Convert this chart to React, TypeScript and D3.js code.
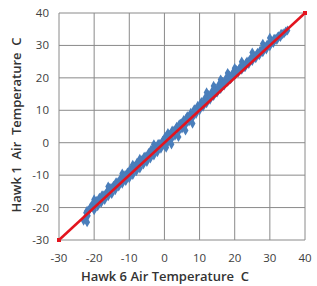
import React from "react";
import * as d3 from "d3";

const ticks = [-30, -20, -10, 0, 10, 20, 30, 40];
const hawk6Temps = [
  -23.0,-22.5,-22.0,-21.8,-21.2,-20.5,-20.0,-19.5,-19.0,-18.5,-18.0,-17.5,-17.0,-16.5,-16.0,-15.5,-15.0,-14.5,-14.0,-13.5,
  -13.0,-12.5,-12.0,-11.5,-11.0,-10.5,-10.0,-9.5,-9.0,-8.5,-8.0,-7.5,-7.0,-6.5,-6.0,-5.5,-5.0,-4.5,-4.0,-3.5,
  -3.0,-2.5,-2.0,-1.5,-1.0,-0.5,0,0.5,1.0,1.5,2.0,2.5,3.0,3.5,4.0,4.5,5.0,5.5,6.0,6.5,
  7.0,7.5,8.0,8.5,9.0,9.5,10.0,10.5,11.0,11.5,12.0,12.5,13.0,13.5,14.0,14.5,15.0,15.5,16.0,16.5,
  17.0,17.5,18.0,18.5,19.0,19.5,20.0,20.5,21.0,21.5,22.0,22.5,23.0,23.5,24.0,24.5,25.0,25.5,26.0,26.5,
  27.0,27.5,28.0,28.5,29.0,29.5,30.0,30.5,31.0,31.5,32.0,32.5,33.0,33.5,34.0,34.5,35.0,
  -12,-9,-7,-3,0.5,2,1,4,12,14,18,20,22,25,28,30,-20,-22,16,6,8,-16,
  -22.3,-21.0,-19.8,-18.8,-17.8,-16.8,-15.7,-14.8,-13.8,-12.8,-11.8,-10.8,-9.8,-8.8,-7.8,-6.8,-5.8,-4.8,-3.8,-2.8,
  -1.8,-0.8,0.2,1.2,2.2,3.2,4.2,5.2,6.2,7.2,8.2,9.2,10.2,11.2,12.2,13.2,14.2,15.2,16.2,17.2,
  18.2,19.2,20.2,21.2,22.2,23.2,24.2,25.2,26.2,27.2,28.2,29.2,30.2,31.2,32.2,33.2,
  -21.5,-19.3,-17.2,-15.2,-13.2,-11.2,-9.3,-7.3,-5.3,-3.3,-1.3,0.8,2.8,4.8,6.8,8.8,10.8,12.8,14.8,16.8,18.8,20.8,22.8,24.8,26.8,28.8,30.8
];
const hawk1Temps = [
  -24.0,-23.2,-21.0,-22.5,-20.3,-19.0,-20.8,-18.2,-19.6,-17.0,-18.5,-16.2,-17.6,-15.4,-16.5,-14.2,-15.8,-13.3,-14.6,-12.2,
  -13.5,-11.0,-12.6,-10.4,-11.8,-9.2,-10.9,-8.3,-9.9,-7.4,-8.8,-6.3,-7.9,-5.4,-6.7,-4.3,-5.9,-3.2,-4.8,-2.4,
  -3.9,-1.3,-2.9,-0.4,-1.8,0.6,-0.9,1.3,0.2,2.4,1.1,3.6,2.2,4.9,3.3,5.8,4.4,7.0,5.5,8.1,
  6.6,9.2,7.7,10.3,8.9,11.4,10.0,12.5,11.1,13.6,12.2,14.7,13.3,15.7,14.4,16.8,15.5,17.9,16.6,18.8,
  17.7,19.8,18.8,20.7,19.9,21.6,20.8,22.4,21.7,23.2,22.5,24.1,23.4,25.0,24.3,25.9,25.2,26.8,26.1,27.7,
  27.0,28.5,27.9,29.4,28.8,30.3,29.8,31.2,30.8,32.0,31.7,32.8,32.6,33.5,33.7,34.3,34.6,
  -9.5,-6.8,-5,-0.5,-1.5,-0.5,3,1.8,15.5,17.5,21.5,23,25,27.8,30.5,32.3,-17.5,-24.5,19.5,3.8,5.9,-13.5,
  -21.6,-19.9,-18.4,-17.9,-16.3,-15.9,-14.0,-13.9,-12.3,-12.0,-10.2,-10.0,-8.3,-8.1,-6.2,-6.0,-4.4,-4.1,-2.2,-2.0,
  -0.4,-0.1,1.8,2.0,3.7,4.1,5.6,6.1,7.5,8.3,9.4,10.4,11.4,12.5,13.6,14.5,15.8,16.7,17.8,18.8,
  19.8,20.7,21.6,22.6,23.6,24.5,25.4,26.4,27.2,28.3,29.1,30.2,31.0,32.0,32.6,33.6,
  -21.0,-18.0,-16.4,-14.0,-12.5,-10.0,-8.6,-6.0,-4.6,-2.0,-0.6,2.1,3.6,6.0,7.6,10.1,11.6,14.2,15.6,18.0,19.6,22.0,23.4,25.7,27.3,29.5,31.2
];
const lineX = [-30, 40];
const lineY = [-30, 40];

export default function App() {
  const W = 317, H = 286;
  const m = { l: 59, r: 305, t: 13, b: 240 };
  const x = d3.scaleLinear().domain([-30, 40]).range([m.l, m.r]);
  const y = d3.scaleLinear().domain([-30, 40]).range([m.b, m.t]);
  const diamond = d3.symbol().type(d3.symbolDiamond).size(30)()!;
  const line = d3.line<number>().x((_, i) => x(lineX[i])).y((_, i) => y(lineY[i]));
  const font = "'Open Sans', sans-serif";
  return (
    <svg width={W} height={H} style={{ position: "absolute", left: 0, top: 0 }}>
      <rect width={W} height={H} fill="#fff" />
      {ticks.map((t) => (
        <g key={t}>
          <line x1={x(t)} x2={x(t)} y1={m.t} y2={m.b} stroke="#8a8a8a" strokeWidth={1} />
          <line x1={m.l} x2={m.r} y1={y(t)} y2={y(t)} stroke="#8a8a8a" strokeWidth={1} />
          <text x={x(t)} y={262} textAnchor="middle" fontSize={11.5} fill="#404040" fontFamily={font}>{t}</text>
          <text x={49} y={y(t)} dy="0.35em" textAnchor="end" fontSize={11.5} fill="#404040" fontFamily={font}>{t}</text>
        </g>
      ))}
      {hawk6Temps.map((v, i) => (
        <path key={i} d={diamond} transform={`translate(${x(v)},${y(hawk1Temps[i])})`} fill="#4a7ebb" />
      ))}
      <path d={line(lineX) || ""} stroke="#e3141e" strokeWidth={2.5} fill="none" />
      <rect x={x(40) - 2} y={y(40) - 2} width={4} height={4} fill="#e3141e" />
      <rect x={x(-30) - 2} y={y(-30) - 2} width={4} height={4} fill="#e3141e" />
      <text x={165} y={281} textAnchor="middle" fontSize={13} fontWeight={600} fill="#333" fontFamily={font} style={{ whiteSpace: "pre" }}>
        {"Hawk 6 Air Temperature  C"}
      </text>
      <text transform={`translate(21,125) rotate(-90)`} textAnchor="middle" fontSize={13} fontWeight={600} fill="#333" fontFamily={font} style={{ whiteSpace: "pre" }}>
        {"Hawk 1  Air  Temperature  C"}
      </text>
    </svg>
  );
}
